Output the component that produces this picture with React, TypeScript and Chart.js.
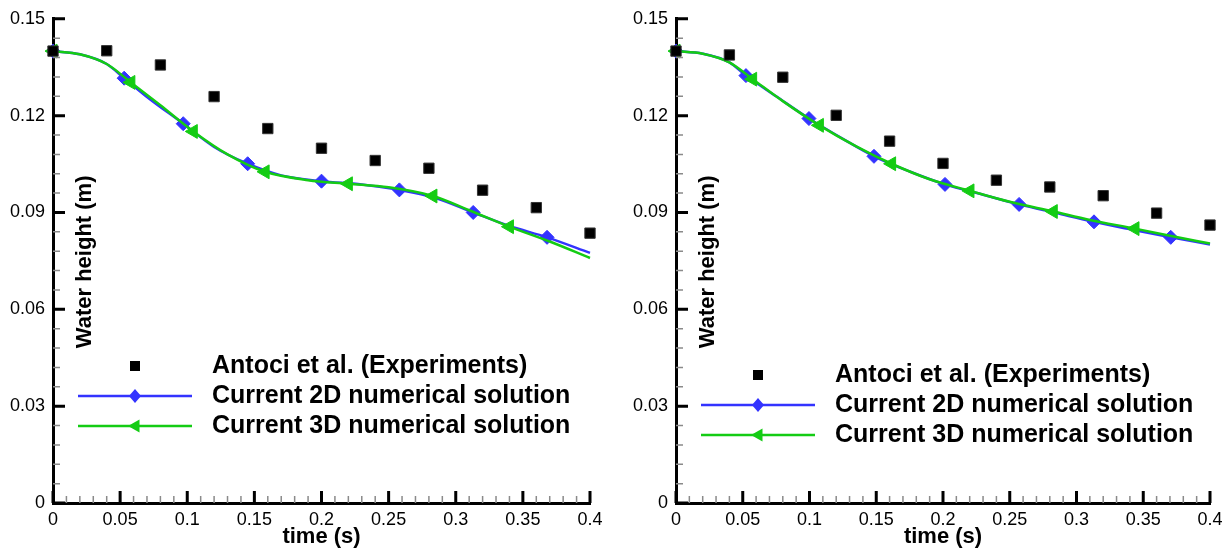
import React, { useEffect, useRef } from "react";
import { Chart, registerables } from "chart.js";

Chart.register(...registerables);

const FONT = '"Liberation Sans", Arial, Helvetica, sans-serif';

// ---- axes ----
const xTickValues = [0, 0.05, 0.1, 0.15, 0.2, 0.25, 0.3, 0.35, 0.4];
const yTickValues = [0, 0.03, 0.06, 0.09, 0.12, 0.15];
const xMinorStep = 0.01;
const yMinorStep = 0.006;
const xTitle = "time (s)";
const yTitle = "Water height (m)";
const seriesLabels = [
  "Antoci et al. (Experiments)",
  "Current 2D numerical solution",
  "Current 3D numerical solution",
];

// ---- experiments (both panels) ----
const expTimes = [0, 0.04, 0.08, 0.12, 0.16, 0.2, 0.24, 0.28, 0.32, 0.36, 0.4];
const expHeightsLeft = [0.14, 0.1401, 0.1357, 0.1259, 0.116, 0.1099, 0.1061, 0.1037, 0.0969, 0.0915, 0.0836];
const expHeightsRight = [0.14, 0.1388, 0.1319, 0.1201, 0.1121, 0.1052, 0.1, 0.0979, 0.0952, 0.0898, 0.0861];

// ---- left panel numerical ----
const left2DTimes = [0, 0.02, 0.04, 0.053, 0.07, 0.097, 0.12, 0.145, 0.17, 0.2, 0.23, 0.258, 0.285, 0.313, 0.34, 0.368, 0.4];
const left2DHeights = [0.14, 0.139, 0.136, 0.1316, 0.1258, 0.1175, 0.1103, 0.1051, 0.1015, 0.0997, 0.0987, 0.097, 0.0945, 0.09, 0.0858, 0.0823, 0.0775];
const left2DMarkers = [0, 0.053, 0.097, 0.145, 0.2, 0.258, 0.313, 0.368];

const left3DTimes = [0, 0.02, 0.04, 0.058, 0.08, 0.1045, 0.13, 0.158, 0.19, 0.22, 0.25, 0.283, 0.31, 0.34, 0.37, 0.4];
const left3DHeights = [0.14, 0.139, 0.136, 0.1303, 0.1232, 0.1151, 0.108, 0.1026, 0.1, 0.0989, 0.0978, 0.0951, 0.0907, 0.0856, 0.081, 0.0759];
const left3DMarkers = [0, 0.058, 0.1045, 0.158, 0.22, 0.283, 0.34];

// ---- right panel numerical ----
const right2DTimes = [0, 0.02, 0.04, 0.0524, 0.075, 0.0996, 0.125, 0.1483, 0.175, 0.2015, 0.23, 0.257, 0.285, 0.3131, 0.34, 0.3706, 0.4];
const right2DHeights = [0.14, 0.1392, 0.1365, 0.1324, 0.126, 0.1191, 0.1128, 0.1074, 0.1027, 0.0987, 0.0955, 0.0925, 0.0898, 0.0871, 0.0848, 0.0823, 0.0801];
const right2DMarkers = [0, 0.0524, 0.0996, 0.1483, 0.2015, 0.257, 0.3131, 0.3706];

const right3DTimes = [0, 0.02, 0.04, 0.0574, 0.08, 0.1074, 0.135, 0.1615, 0.19, 0.2202, 0.25, 0.2826, 0.31, 0.3438, 0.37, 0.4];
const right3DHeights = [0.14, 0.1392, 0.1365, 0.1313, 0.1245, 0.117, 0.1105, 0.1051, 0.1003, 0.0967, 0.0933, 0.0903, 0.0877, 0.085, 0.0828, 0.0804];
const right3DMarkers = [0, 0.0574, 0.1074, 0.1615, 0.2202, 0.2826, 0.3438];

const COLOR_EXP = "#000000";
const COLOR_2D = "#3333ff";
const COLOR_3D = "#14cc14";

const zip = (xs: number[], ys: number[]) => xs.map((x, i) => ({ x, y: ys[i] }));
const fmt = (v: number) => String(+(+v).toFixed(3));

function isMajor(v: number, majors: number[]) {
  return majors.some((m) => Math.abs(m - v) < 1e-9);
}

const decorPlugin = {
  id: "tecDecor",
  afterDraw(chart: any, _args: any, opts: any) {
    const { ctx, chartArea: ca, scales } = chart;
    const xs = scales.x;
    const ys = scales.y;
    ctx.save();
    // minor ticks (inward)
    ctx.strokeStyle = "#8a8a8a";
    ctx.lineWidth = 1.5;
    ctx.beginPath();
    const nx = Math.round((xs.max - xs.min) / xMinorStep);
    for (let i = 0; i <= nx; i++) {
      const v = xs.min + i * xMinorStep;
      if (isMajor(v, xTickValues)) continue;
      const px = xs.getPixelForValue(v);
      ctx.moveTo(px, ca.bottom);
      ctx.lineTo(px, ca.bottom - 7);
    }
    const ny = Math.round((ys.max - ys.min) / yMinorStep);
    for (let i = 0; i <= ny; i++) {
      const v = ys.min + i * yMinorStep;
      if (isMajor(v, yTickValues)) continue;
      const py = ys.getPixelForValue(v);
      ctx.moveTo(ca.left, py);
      ctx.lineTo(ca.left + 7, py);
    }
    ctx.stroke();
    // major ticks (inward)
    ctx.strokeStyle = "#000";
    ctx.lineWidth = 3;
    ctx.beginPath();
    xTickValues.forEach((v) => {
      const px = xs.getPixelForValue(v);
      ctx.moveTo(px, ca.bottom);
      ctx.lineTo(px, ca.bottom - 12);
    });
    yTickValues.forEach((v) => {
      const py = ys.getPixelForValue(v);
      ctx.moveTo(ca.left, py);
      ctx.lineTo(ca.left + 12, py);
    });
    ctx.stroke();

    // y axis title (inside plot)
    ctx.fillStyle = "#000";
    ctx.font = `bold 22px ${FONT}`;
    ctx.textAlign = "center";
    ctx.textBaseline = "middle";
    ctx.translate(ca.left + 32, (ca.top + ca.bottom) / 2 + 1);
    ctx.rotate(-Math.PI / 2);
    ctx.fillText(yTitle, 0, 0);
    ctx.setTransform(1, 0, 0, 1, 0, 0);

    // legend
    const ds = chart.data.datasets;
    ctx.font = `bold ${opts.fontSize}px ${FONT}`;
    ctx.textAlign = "left";
    ctx.textBaseline = "middle";
    ds.forEach((d: any, i: number) => {
      const y = opts.top + i * opts.gap;
      const mx = ca.left + opts.markerX;
      if (d.showLine !== false) {
        ctx.strokeStyle = d.borderColor;
        ctx.lineWidth = 2.5;
        ctx.beginPath();
        ctx.moveTo(ca.left + opts.lineStart, y);
        ctx.lineTo(ca.left + opts.lineEnd, y);
        ctx.stroke();
      }
      ctx.fillStyle = d.pointBackgroundColor;
      ctx.beginPath();
      if (d.pointStyle === "rect") {
        ctx.rect(mx - 5, y - 5, 10, 10);
      } else if (d.pointStyle === "rectRot") {
        ctx.moveTo(mx, y - 7);
        ctx.lineTo(mx + 6, y);
        ctx.lineTo(mx, y + 7);
        ctx.lineTo(mx - 6, y);
        ctx.closePath();
      } else {
        ctx.moveTo(mx - 7, y);
        ctx.lineTo(mx + 4.5, y - 6.5);
        ctx.lineTo(mx + 4.5, y + 6.5);
        ctx.closePath();
      }
      ctx.fill();
      ctx.fillStyle = "#000";
      ctx.fillText(d.label, ca.left + opts.textX, y);
    });
    ctx.restore();
  },
};

type PanelProps = {
  expH: number[];
  t2: number[];
  h2: number[];
  m2: number[];
  t3: number[];
  h3: number[];
  m3: number[];
  yAxisWidth: number;
  padRight: number;
  legendTop: number;
  left: number;
};

function Panel(p: PanelProps) {
  const ref = useRef<HTMLCanvasElement | null>(null);
  useEffect(() => {
    if (!ref.current) return;
    const markerRadius = (times: number[], r: number) => (c: any) =>
      c.raw && times.some((t) => Math.abs(t - c.raw.x) < 1e-9) ? r : 0;
    const chart = new Chart(ref.current, {
      type: "line",
      data: {
        datasets: [
          {
            label: seriesLabels[0],
            data: zip(expTimes, p.expH),
            showLine: false,
            clip: false,
            pointStyle: "rect",
            pointRadius: 7.3,
            pointBackgroundColor: COLOR_EXP,
            pointBorderColor: "#333",
            pointBorderWidth: 1,
            borderColor: COLOR_EXP,
            order: 0,
          } as any,
          {
            label: seriesLabels[1],
            data: zip(p.t2, p.h2),
            clip: false,
            borderColor: COLOR_2D,
            borderWidth: 2.5,
            cubicInterpolationMode: "monotone",
            pointStyle: "rectRot",
            pointRadius: markerRadius(p.m2, 7),
            pointBackgroundColor: COLOR_2D,
            pointBorderColor: COLOR_2D,
            pointBorderWidth: 1,
            order: 2,
          },
          {
            label: seriesLabels[2],
            data: zip(p.t3, p.h3),
            clip: false,
            borderColor: COLOR_3D,
            borderWidth: 2.5,
            cubicInterpolationMode: "monotone",
            pointStyle: "triangle",
            rotation: -90,
            pointRotation: -90,
            pointRadius: markerRadius(p.m3, 8),
            pointBackgroundColor: COLOR_3D,
            pointBorderColor: COLOR_3D,
            pointBorderWidth: 1,
            order: 1,
          } as any,
        ],
      },
      options: {
        responsive: false,
        animation: false,
        devicePixelRatio: 1,
        layout: { padding: { left: 0, right: p.padRight, top: 17, bottom: 0 } },
        plugins: {
          legend: { display: false },
          tooltip: { enabled: false },
          tecDecor: {
            top: p.legendTop,
            gap: 30,
            lineStart: 25,
            lineEnd: 139,
            markerX: 82,
            textX: 159,
            fontSize: 25,
          },
        } as any,
        scales: {
          x: {
            type: "linear",
            min: 0,
            max: 0.4,
            afterBuildTicks: (s: any) => {
              s.ticks = xTickValues.map((v) => ({ value: v }));
            },
            afterFit: (s: any) => {
              s.height = 47;
            },
            grid: { display: false, drawTicks: false },
            border: { display: true, color: "#000", width: 3 },
            ticks: {
              color: "#000",
              padding: 6,
              maxRotation: 0,
              autoSkip: false,
              font: { family: FONT, size: 18 },
              callback: (v: any) => fmt(v),
            },
            title: {
              display: true,
              text: xTitle,
              color: "#000",
              padding: 0,
              font: { family: FONT, size: 22, weight: "bold", lineHeight: 1.2 },
            },
          },
          y: {
            type: "linear",
            min: 0,
            max: 0.15,
            afterBuildTicks: (s: any) => {
              s.ticks = yTickValues.map((v) => ({ value: v }));
            },
            afterFit: (s: any) => {
              s.width = p.yAxisWidth;
            },
            grid: { display: false, drawTicks: false },
            border: { display: true, color: "#000", width: 3 },
            ticks: {
              color: "#000",
              padding: 8,
              autoSkip: false,
              font: { family: FONT, size: 18 },
              callback: (v: any) => fmt(v),
            },
          },
        },
      } as any,
      plugins: [decorPlugin as any],
    });
    return () => chart.destroy();
  }, []);
  return (
    <canvas
      ref={ref}
      width={616}
      height={550}
      style={{ position: "absolute", left: p.left, top: 0, width: 616, height: 550, display: "block" }}
    />
  );
}

export default function App() {
  return (
    <div style={{ position: "absolute", left: 0, top: 0, width: 1232, height: 550, background: "#fff", overflow: "hidden" }}>
      <Panel
        expH={expHeightsLeft}
        t2={left2DTimes}
        h2={left2DHeights}
        m2={left2DMarkers}
        t3={left3DTimes}
        h3={left3DHeights}
        m3={left3DMarkers}
        yAxisWidth={53}
        padRight={26}
        legendTop={366}
        left={0}
      />
      <Panel
        expH={expHeightsRight}
        t2={right2DTimes}
        h2={right2DHeights}
        m2={right2DMarkers}
        t3={right3DTimes}
        h3={right3DHeights}
        m3={right3DMarkers}
        yAxisWidth={60}
        padRight={22}
        legendTop={375}
        left={616}
      />
    </div>
  );
}
